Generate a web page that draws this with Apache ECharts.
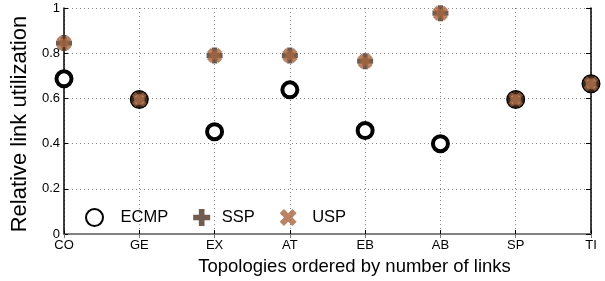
<!DOCTYPE html>
<html><head><meta charset="utf-8">
<script src="https://cdn.jsdelivr.net/npm/echarts@6/dist/echarts.min.js"></script>
<style>html,body{margin:0;padding:0;background:#fff}#c{width:605px;height:281px}</style>
</head><body><div id="c"></div>
<script>
var categories = ['CO','GE','EX','AT','EB','AB','SP','TI'];
var ecmp = [0.687, 0.595, 0.453, 0.638, 0.458, 0.400, 0.595, 0.665];
var ssp  = [0.845, 0.595, 0.790, 0.790, 0.765, 0.977, 0.595, 0.665];
var usp  = [0.845, 0.595, 0.790, 0.790, 0.765, 0.977, 0.595, 0.665];
var yTicks = [0, 0.2, 0.4, 0.6, 0.8, 1];

var plusPath = 'path://M4,0h4v4h4v4h-4v4h-4v-4h-4v-4h4z';
var crossPath = 'path://M0,3L3,0L6,3L9,0L12,3L9,6L12,9L9,12L6,9L3,12L0,9L3,6Z';
var font = 'Liberation Sans';
var legendText = function(pad){ return {fontFamily:font, fontSize:16.5, color:'#000', padding:[0,0,0,pad]}; };
var chart = echarts.init(document.getElementById('c'), null, {renderer:'canvas'});
chart.setOption({
  animation:false,
  textStyle:{fontFamily:font},
  grid:{left:64, right:14, top:8, bottom:45, containLabel:false},
  legend:{
    left:85, top:208, padding:0, itemGap:25, itemWidth:20, itemHeight:17,
    textStyle:legendText(5),
    data:[{name:'ECMP', textStyle:legendText(11)},
          {name:'SSP', textStyle:legendText(5)},
          {name:'USP', textStyle:legendText(9)}]
  },
  xAxis:[{
    type:'category', data:categories, boundaryGap:false,
    name:'Topologies ordered by number of links', nameLocation:'middle', nameGap:21,
    nameTextStyle:{fontFamily:font, fontSize:18.5, color:'#000', padding:[0,0,0,54]},
    axisLine:{lineStyle:{color:'#000', width:1.5}},
    axisTick:{inside:true, length:4, lineStyle:{color:'#000'}},
    axisLabel:{color:'#000', fontSize:13, margin:5, fontFamily:font},
    splitLine:{show:true, lineStyle:{color:'#888', type:[1,3], width:1}}
  },{
    type:'category', data:categories, boundaryGap:false, position:'top',
    axisLine:{lineStyle:{color:'#999', width:1.5}},
    axisTick:{inside:true, length:4, lineStyle:{color:'#777'}},
    axisLabel:{show:false}, splitLine:{show:false}
  }],
  yAxis:[{
    type:'value', min:0, max:1, interval:0.2,
    name:'Relative link utilization', nameLocation:'middle', nameGap:26,
    nameTextStyle:{fontFamily:font, fontSize:22, color:'#000', padding:[0,6,0,0]},
    axisLine:{show:true, lineStyle:{color:'#000', width:1.5}},
    axisTick:{show:true, inside:true, length:4, lineStyle:{color:'#000'}},
    axisLabel:{color:'#000', fontSize:13, margin:4, fontFamily:font,
      formatter:function(v){ return String(Math.round(v*10)/10); }},
    splitLine:{show:true, lineStyle:{color:'#888', type:[1,3], width:1}}
  },{
    type:'value', min:0, max:1, interval:0.2, position:'right',
    axisLine:{show:true, lineStyle:{color:'#000', width:1.5}},
    axisTick:{show:true, inside:true, length:5, lineStyle:{color:'#000'}},
    axisLabel:{show:false}, splitLine:{show:false}
  }],
  series:[{
    name:'ECMP', type:'scatter', data:ecmp, symbol:'circle', symbolSize:15,
    itemStyle:{color:'#fff', borderColor:'#000', borderWidth:4, opacity:1}, z:2
  },{
    name:'SSP', type:'scatter', data:ssp, symbol:plusPath, symbolSize:16,
    itemStyle:{color:'#4f3324'}, z:3
  },{
    name:'USP', type:'scatter', data:usp, symbol:crossPath, symbolSize:15,
    itemStyle:{color:'#a6653e'}, z:4
  }]
});
</script></body></html>
